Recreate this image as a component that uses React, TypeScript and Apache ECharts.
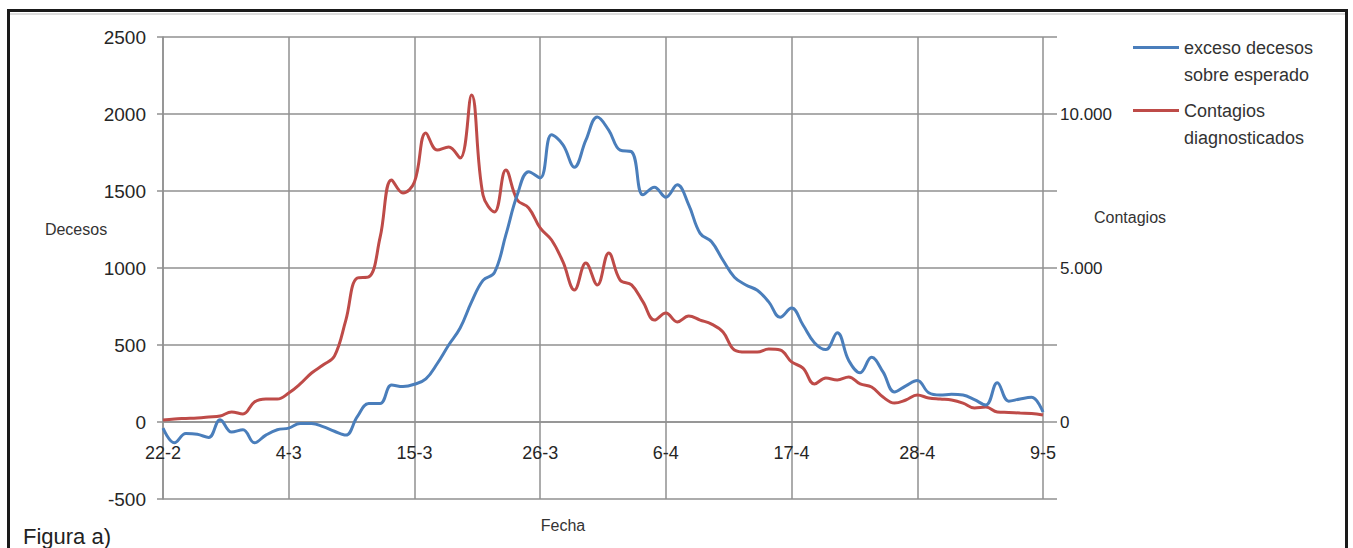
import React, { useEffect, useRef } from "react";
import * as echarts from "echarts";

const fechas = [
  "22-2", "23-2", "24-2", "25-2", "26-2", "27-2", "28-2", "29-2",
  "1-3", "2-3", "3-3", "4-3", "5-3", "6-3", "7-3", "8-3", "9-3", "10-3", "11-3", "12-3",
  "13-3", "14-3", "15-3", "16-3", "17-3", "18-3", "19-3", "20-3", "21-3", "22-3", "23-3",
  "24-3", "25-3", "26-3", "27-3", "28-3", "29-3", "30-3", "31-3",
  "1-4", "2-4", "3-4", "4-4", "5-4", "6-4", "7-4", "8-4", "9-4", "10-4", "11-4", "12-4",
  "13-4", "14-4", "15-4", "16-4", "17-4", "18-4", "19-4", "20-4", "21-4", "22-4", "23-4",
  "24-4", "25-4", "26-4", "27-4", "28-4", "29-4", "30-4",
  "1-5", "2-5", "3-5", "4-5", "5-5", "6-5", "7-5", "8-5", "9-5",
];

const excesoDecesos = [
  -40, -135, -75, -80, -100, 15, -65, -50, -135, -85, -50, -40, -10, -10, -30, -60,
  -85, 35, 120, 120, 240, 230, 245, 280, 380, 500, 610, 780, 920, 970, 1215, 1475,
  1625, 1585, 1865, 1800, 1655, 1830, 1980, 1895, 1765, 1755, 1475, 1525, 1460, 1540,
  1410, 1225, 1170, 1050, 940, 890, 855, 780, 680, 740, 630, 515, 470, 580, 400, 320,
  420, 325, 195, 235, 270, 190, 175, 180, 175, 145, 110, 255, 135, 150, 160, 65,
];

const contagios = [
  65, 100, 115, 130, 160, 195, 325, 260, 650, 745, 745, 940, 1235, 1590, 1850, 2140,
  3310, 4675, 4710, 6000, 7860, 7435, 7790, 9385, 8830, 8930, 8570, 10620, 7370, 6820,
  8180, 7210, 6950, 6300, 5910, 5195, 4285, 5160, 4450, 5490, 4610, 4450, 3900, 3310,
  3540, 3250, 3440, 3310, 3180, 2920, 2340, 2270, 2270, 2370, 2340, 1950, 1750, 1235,
  1430, 1365, 1460, 1235, 1135, 810, 615, 715, 875, 780, 745, 715, 615, 455, 485, 325,
  310, 290, 275, 225,
];

const etiquetasContagios = [0, 5000, 10000];

const SERIE_A = "exceso decesos sobre esperado";
const SERIE_B = "Contagios diagnosticados";

export default function App() {
  const ref = useRef<HTMLDivElement>(null);
  useEffect(() => {
    const chart = echarts.init(ref.current!, null, { renderer: "svg" });
    const font = "'Liberation Sans', Arial, sans-serif";
    const gridColor = "#909090";
    const txt = "#333333";
    const tickTxt = "#262626";
    chart.setOption({
      animation: false,
      backgroundColor: "#ffffff",
      textStyle: { fontFamily: font },
      grid: { left: 163, right: 310, top: 37, bottom: 49, containLabel: false },
      legend: {
        orient: "vertical",
        left: 1128,
        top: 2,
        itemWidth: 46,
        itemHeight: 3,
        itemGap: -18,
        icon: "rect",
        selectedMode: false,
        formatter: (name: string) =>
          name === SERIE_A ? "\nexceso decesos\nsobre esperado" : "\nContagios\ndiagnosticados",
        textStyle: { fontSize: 18, lineHeight: 27, color: txt, fontFamily: font },
        data: [SERIE_A, SERIE_B],
      },
      xAxis: {
        type: "category",
        data: fechas,
        boundaryGap: false,
        position: "bottom",
        offset: -77,
        axisLine: { show: true, onZero: false, lineStyle: { color: gridColor, width: 1.5 } },
        axisTick: { show: false },
        axisLabel: {
          interval: 10,
          margin: 22,
          fontSize: 18,
          color: tickTxt,
          fontFamily: font,
          showMaxLabel: true,
          showMinLabel: true,
        },
        splitLine: { show: true, interval: 10, lineStyle: { color: gridColor, width: 1.5 } },
      },
      yAxis: [
        {
          type: "value",
          min: -500,
          max: 2500,
          interval: 500,
          position: "left",
          axisLine: { show: true, lineStyle: { color: gridColor, width: 1.5 } },
          axisTick: { show: true, length: 6, lineStyle: { color: gridColor, width: 1.5 } },
          axisLabel: {
            fontSize: 19,
            margin: 17,
            color: tickTxt,
            fontFamily: font,
            formatter: (v: number) => String(v),
          },
          splitLine: { show: true, lineStyle: { color: gridColor, width: 1.5 } },
        },
        {
          type: "value",
          min: -2500,
          max: 12500,
          interval: 2500,
          position: "right",
          axisLine: { show: false },
          axisTick: { show: true, length: 14, lineStyle: { color: gridColor, width: 1.5 } },
          axisLabel: {
            fontSize: 17,
            margin: 17,
            color: tickTxt,
            fontFamily: font,
            formatter: (v: number) =>
              etiquetasContagios.includes(v)
                ? String(v).replace(/\B(?=(\d{3})+(?!\d))/g, ".")
                : "",
          },
          splitLine: { show: false },
        },
      ],
      series: [
        {
          name: SERIE_A,
          type: "line",
          yAxisIndex: 0,
          data: excesoDecesos,
          smooth: 0.4,
          showSymbol: false,
          lineStyle: { color: "#4a7ebb", width: 3 },
          itemStyle: { color: "#4a7ebb" },
          z: 3,
        },
        {
          name: SERIE_B,
          type: "line",
          yAxisIndex: 1,
          data: contagios,
          smooth: 0.4,
          showSymbol: false,
          lineStyle: { color: "#be4b48", width: 3 },
          itemStyle: { color: "#be4b48" },
          z: 2,
        },
      ],
      graphic: [
        {
          type: "rect",
          shape: { x: 8.5, y: 10.5, width: 1338, height: 600 },
          style: { fill: "none", stroke: "#1a1a1a", lineWidth: 3 },
          silent: true,
        },
        {
          type: "line",
          shape: { x1: 10, y1: 14, x2: 1345, y2: 14 },
          style: { stroke: "#d0d0d0", lineWidth: 1.5 },
          silent: true,
        },
        {
          type: "text",
          x: 76,
          y: 229,
          style: { text: "Decesos", fill: txt, fontSize: 16, fontFamily: font, align: "center", verticalAlign: "middle" },
        },
        {
          type: "text",
          x: 1130,
          y: 217,
          style: { text: "Contagios", fill: txt, fontSize: 16, fontFamily: font, align: "center", verticalAlign: "middle" },
        },
        {
          type: "text",
          x: 563,
          y: 525,
          style: { text: "Fecha", fill: txt, fontSize: 16, fontFamily: font, align: "center", verticalAlign: "middle" },
        },
        {
          type: "text",
          x: 23,
          y: 536,
          style: { text: "Figura a)", fill: "#222222", fontSize: 22, fontFamily: font, align: "left", verticalAlign: "middle" },
        },
      ],
    });
    return () => chart.dispose();
  }, []);
  return (
    <div
      ref={ref}
      style={{ position: "fixed", left: 0, top: 0, width: 1353, height: 548 }}
    />
  );
}
